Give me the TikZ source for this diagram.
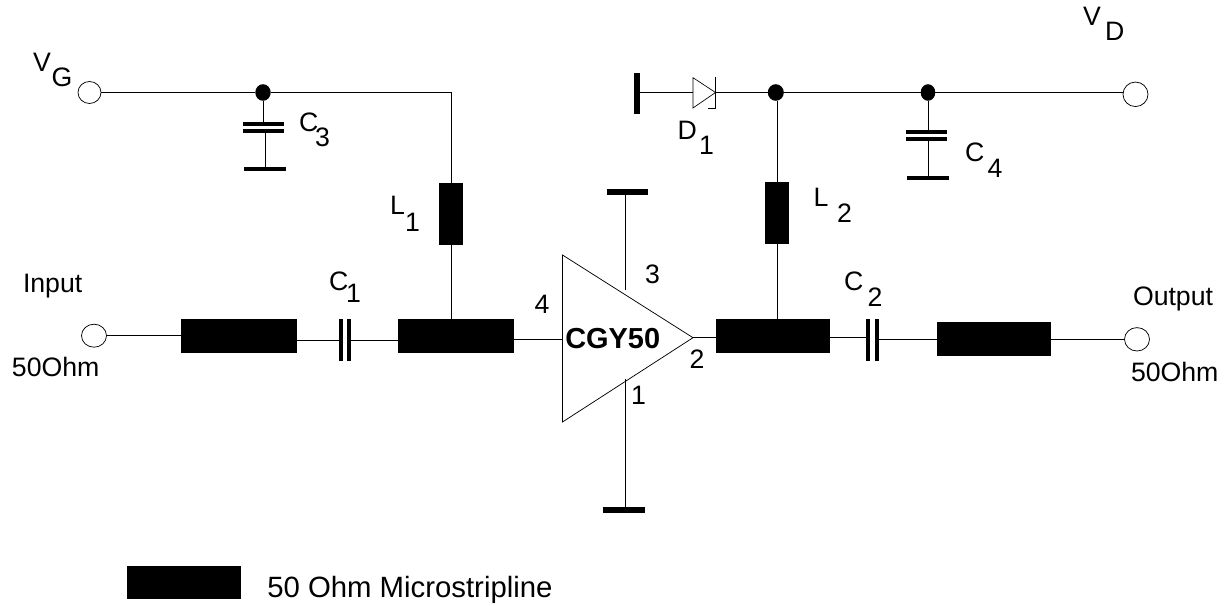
\documentclass[tikz,border=0pt]{standalone}
\usepackage{fontspec}
\setmainfont{Liberation Sans}
\usetikzlibrary{shapes.geometric}
\tikzset{
  box/.style n args={2}{rectangle,fill=black,draw=none,inner sep=0pt,outer sep=0pt,minimum width=#1*0.75pt,minimum height=#2*0.75pt},
  term/.style n args={2}{ellipse,draw=black,fill=white,line width=0.55pt,inner sep=0pt,outer sep=0pt,minimum width=#1*0.75pt,minimum height=#2*0.75pt},
  junction/.style n args={2}{ellipse,fill=black,draw=none,inner sep=0pt,outer sep=0pt,minimum width=#1*0.75pt,minimum height=#2*0.75pt},
  wire/.style={draw=black,line width=0.7pt},
  lab/.style={anchor=base west,inner sep=0pt,outer sep=0pt,font=\fontsize{20pt}{20pt}\selectfont},
  num/.style={anchor=base west,inner sep=0pt,outer sep=0pt,font=\fontsize{20pt}{20pt}\selectfont}
}
\begin{document}
\begin{tikzpicture}[x=0.75pt,y=-0.75pt]
\useasboundingbox (0,0) rectangle (1229,606);
% terminals
\node[term={23}{22}] (vg) at (89.5,92.5) {};
\node[term={25}{24.5}] (vd) at (1135.5,94.3) {};
\node[term={25}{23}] (inp) at (94,335.7) {};
\node[term={25}{23.4}] (outp) at (1137,339.3) {};
% junctions
\node[junction={15.4}{16.6}] (j1) at (263,92.5) {};
\node[junction={16}{16.6}] (j2) at (775.8,92.5) {};
\node[junction={14.6}{16.6}] (j3) at (928,92.5) {};
% microstrips and inductors
\node[box={116}{34}] (m1) at (239,335.7) {};
\node[box={116}{34}] (m2) at (455.5,336.3) {};
\node[box={114}{33.4}] (m3) at (773,336) {};
\node[box={114}{33.4}] (m4) at (993.5,339) {};
\node[box={24}{62}] (l1) at (451,214) {};
\node[box={24}{61.4}] (l2) at (777,213) {};
\node[box={114.5}{33}] (legend) at (184.2,582.5) {};
% capacitors
\node[box={41}{4.5}] (c3a) at (263.5,124.2) {};
\node[box={41}{4.5}] (c3b) at (263.5,130.9) {};
\node[box={42}{4}] (g3) at (265,169) {};
\node[box={41}{4.3}] (c4a) at (926.5,132.1) {};
\node[box={41}{4}] (c4b) at (926.5,138.7) {};
\node[box={42.4}{4}] (g4) at (928.2,178) {};
\node[box={4.5}{42}] (c1a) at (341.2,340) {};
\node[box={4.5}{42}] (c1b) at (348.8,340) {};
\node[box={4}{42}] (c2a) at (868,340) {};
\node[box={4}{42}] (c2b) at (876.5,340) {};
% ground bars
\node[box={6}{40.7}] (bar) at (637,93.4) {};
\node[box={41}{5.7}] (gt) at (627.5,191.8) {};
\node[box={42}{6}] (gb) at (624,510) {};
% amplifier triangle and diode
\coordinate (a1) at (562.5,255);
\coordinate (a2) at (562.5,422);
\coordinate (a3) at (693,337.7);
\coordinate (p3) at (625,290);
\coordinate (p1) at (625,379);
\coordinate (p4) at (562.5,339);
\draw[black,line width=0.55pt,line join=miter] (a1) -- (a3) -- (a2) -- cycle;
\coordinate (d1) at (693,77.7);
\coordinate (d2) at (693,108);
\coordinate (d3) at (715.5,92.5);
\coordinate (d4) at (715.5,77);
\coordinate (d5) at (715.5,108);
\coordinate (d6) at (708,108);
\draw[black,line width=0.5pt] (d1) -- (d3) -- (d2) -- cycle;
\draw[black,line width=0.5pt] (d4) -- (d5) -- (d6);
% wires
\draw[wire] (vg.east) -- (j1.west);
\draw[wire] (j1.east) -| (l1.north);
\draw[wire] (j1.south) -- (c3a.north -| j1.south);
\draw[wire] (c3b.south -| g3.north) -- (g3.north);
\draw[wire] (l1.south) -- (l1.south |- m2.north);
\draw[wire] (inp.east) -- (m1.west);
\draw[wire] (c1a.west) -- (c1a.west -| m1.east);
\draw[wire] (c1b.east) -- (c1b.east -| m2.west);
\draw[wire] (p4 -| m2.east) -- (p4);
\draw[wire] (p3) -- (p3 |- gt.south);
\draw[wire] (p1) -- (p1 |- gb.north);
\draw[wire] (a3) -- (a3 -| m3.west);
\draw[wire] (m3.east |- a3) -- (c2a.west |- a3);
\draw[wire] (c2b.east |- outp) -- (m4.west |- outp);
\draw[wire] (m4.east |- outp) -- (outp.west);
\draw[wire] (l2.south) -- (l2.south |- m3.north);
\draw[wire] (j2.south -| l2.north) -- (l2.north);
\draw[wire] (bar.east |- d3) -- (d1 |- d3);
\draw[wire] (d3) -- (j2.west);
\draw[wire] (j2.east) -- (j3.west);
\draw[wire] (j3.east) -- (vd.west |- j3.east);
\draw[wire] (j3.south) -- (j3.south |- c4a.north);
\draw[wire] (c4b.south -| j3.south) -- (j3.south |- g4.north);
% labels
\node[lab] (tvg) at (33,72) {V};
\node[lab] (tvgs) at (51.5,87) {G};
\node[lab] (tc3) at (299,132) {C};
\node[num] (tc3s) at (315,147) {3};
\node[lab] (tl1) at (390,215) {L};
\node[num] (tl1s) at (405,232) {1};
\node[lab] (tc1) at (329,291) {C};
\node[num] (tc1s) at (346,302) {1};
\node[lab] (tin) at (23,292.7) {Input};
\node[lab] (t50a) at (12,376.7) {50Ohm};
\node[num] (t4) at (534.5,313) {4};
\node[num] (t3) at (645,283) {3};
\node[num] (t1) at (631,404) {1};
\node[num] (t2) at (689.5,368) {2};
\node[anchor=base west,inner sep=0pt,font=\fontsize{21.7pt}{21.7pt}\selectfont\bfseries] (tamp) at (565,349) {CGY50};
\node[lab] (td1) at (677.5,140) {D};
\node[num] (td1s) at (699,155) {1};
\node[lab] (tl2) at (813.5,207) {L};
\node[num] (tl2s) at (837,223) {2};
\node[lab] (tc4) at (965,162) {C};
\node[num] (tc4s) at (987.5,178) {4};
\node[lab] (tvd) at (1083,25.7) {V};
\node[lab] (tvds) at (1105,40.7) {D};
\node[lab] (tc2) at (844,291) {C};
\node[num] (tc2s) at (867.5,306) {2};
\node[lab] (tout) at (1133,305.7) {Output};
\node[lab] (t50b) at (1131,381.7) {50Ohm};
\node[anchor=base west,inner sep=0pt,font=\fontsize{22pt}{22pt}\selectfont] (tleg) at (267,597) {50 Ohm Microstripline};
\end{tikzpicture}
\end{document}
